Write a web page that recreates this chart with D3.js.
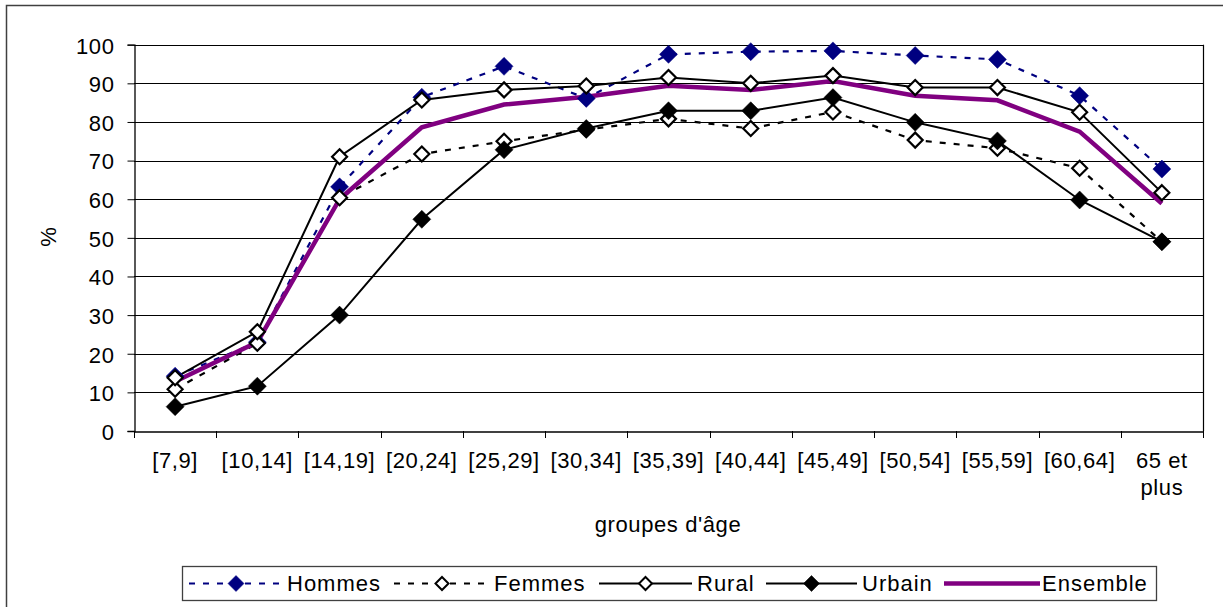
<!DOCTYPE html>
<html><head><meta charset="utf-8">
<script src="https://cdn.jsdelivr.net/npm/d3@7"></script>
<style>
html,body{margin:0;padding:0;background:#fff;}
svg{display:block;font-family:"Liberation Sans",Arial,sans-serif;}
</style></head><body>
<svg id="c" width="1223" height="607"></svg>
<script>
const categories = ["[7,9]","[10,14]","[14,19]","[20,24]","[25,29]","[30,34]","[35,39]","[40,44]","[45,49]","[50,54]","[55,59]","[60,64]","65 et plus"];
const hommes   = [14.2, 23.0, 63.2, 86.4, 94.4, 86.1, 97.5, 98.2, 98.4, 97.2, 96.2, 86.8, 67.8];
const femmes   = [10.8, 22.7, 60.4, 71.7, 75.0, 78.0, 80.8, 78.3, 82.6, 75.3, 73.2, 68.0, 49.0];
const rural    = [13.8, 25.7, 71.0, 85.7, 88.3, 89.3, 91.5, 90.0, 92.0, 88.9, 88.9, 82.5, 61.7];
const urbain   = [6.3, 11.6, 30.0, 54.8, 72.8, 78.3, 82.9, 82.9, 86.3, 79.9, 75.1, 59.8, 49.0];
const ensemble = [12.8, 23.0, 60.0, 78.6, 84.5, 86.5, 89.4, 88.3, 90.6, 86.8, 85.6, 77.5, 58.9];
const yTicks = [0,10,20,30,40,50,60,70,80,90,100];
const seriesNames = ["Hommes","Femmes","Rural","Urbain","Ensemble"];

const styles = {
  Hommes:   {color:"#000080", width:2.2, dash:"6,8", marker:"filled", mcolor:"#000080"},
  Femmes:   {color:"#000000", width:2.2, dash:"6,8", marker:"open"},
  Rural:    {color:"#000000", width:2, dash:null, marker:"open"},
  Urbain:   {color:"#000000", width:2, dash:null, marker:"filled", mcolor:"#000000"},
  Ensemble: {color:"#800080", width:4.5, dash:null, marker:null}
};
const data = {Hommes:hommes, Femmes:femmes, Rural:rural, Urbain:urbain, Ensemble:ensemble};

const FS = 22, LS = "0.6px";
const svg = d3.select("#c");
const L=134, R=1203, T=44.7, B=431;
const x = d3.scaleBand().domain(categories).range([L,R]).padding(0);
const y = d3.scaleLinear().domain([0,100]).range([B,T]);
const cx = c => x(c)+x.bandwidth()/2;

// outer border
svg.append("rect").attr("x",6.5).attr("y",5.5).attr("width",1240).attr("height",640)
  .attr("fill","none").attr("stroke","#404040").attr("stroke-width",1.5);

// gridlines
svg.append("g").selectAll("line").data(yTicks.filter(d=>d>0)).join("line")
  .attr("x1",L).attr("x2",R).attr("y1",d=>Math.round(y(d))+0.5).attr("y2",d=>Math.round(y(d))+0.5)
  .attr("stroke","#000").attr("stroke-width",1);
// right border of plot
svg.append("line").attr("x1",R+0.5).attr("x2",R+0.5).attr("y1",T).attr("y2",B)
  .attr("stroke","#000").attr("stroke-width",1.2);

// y axis
const yAxis = d3.axisLeft(y).tickValues(yTicks).tickSize(7).tickPadding(13).tickFormat(d3.format("d"));
const gy = svg.append("g").attr("transform",`translate(${L+0.5},0)`).call(yAxis);
gy.select(".domain").attr("stroke","#000").attr("stroke-width",1.3);
gy.selectAll(".tick line").attr("stroke","#000");
gy.selectAll(".tick text").attr("font-size",FS).attr("fill","#000")
  .attr("font-family","'Liberation Sans',Arial,sans-serif").style("letter-spacing",LS).attr("dy","0.38em");

// x axis
const xAxis = d3.axisBottom(x).tickSize(0).tickFormat("");
const gx = svg.append("g").attr("transform",`translate(0,${Math.round(B)+0.5})`).call(xAxis);
gx.select(".domain").attr("stroke","#000").attr("stroke-width",1.3);
// tick marks at band boundaries
const bounds = categories.map(c=>x(c)).concat([R]);
svg.append("g").selectAll("line").data(bounds).join("line")
  .attr("x1",d=>Math.round(d)+0.5).attr("x2",d=>Math.round(d)+0.5)
  .attr("y1",B).attr("y2",B+7).attr("stroke","#000").attr("stroke-width",1);
// x labels
const xl = svg.append("g").selectAll("text").data(categories).join("text")
  .attr("x",d=>cx(d)).attr("y",468).attr("text-anchor","middle")
  .attr("font-size",FS).attr("fill","#000").style("letter-spacing",LS);
xl.each(function(d){
  const t=d3.select(this);
  if(d==="65 et plus"){
    t.append("tspan").attr("x",cx(d)).attr("dy",0).text("65 et");
    t.append("tspan").attr("x",cx(d)).attr("dy",27).text("plus");
  } else t.text(d);
});

// axis titles
svg.append("text").attr("x",668).attr("y",532).attr("text-anchor","middle")
  .attr("font-size",FS).style("letter-spacing",LS).attr("fill","#000").text("groupes d'âge");
svg.append("text").attr("transform","translate(56,237) rotate(-90)").attr("text-anchor","middle")
  .attr("font-size",FS).attr("fill","#000").text("%");

// lines
const line = d3.line().x((d,i)=>cx(categories[i])).y(d=>y(d));
const diamond = s => `M0,${-s}L${s},0L0,${s}L${-s},0Z`;
seriesNames.forEach(n=>{
  const st=styles[n];
  svg.append("path").datum(data[n]).attr("d",line).attr("fill","none")
    .attr("stroke",st.color).attr("stroke-width",st.width)
    .attr("stroke-dasharray",st.dash).attr("stroke-linejoin","miter");
});
seriesNames.forEach(n=>{
  const st=styles[n];
  if(!st.marker) return;
  svg.append("g").selectAll("path").data(data[n]).join("path")
    .attr("transform",(d,i)=>`translate(${cx(categories[i])},${y(d)})`)
    .attr("d", st.marker==="filled" ? diamond(9) : diamond(7.5))
    .attr("fill", st.marker==="filled" ? st.mcolor : "#fff")
    .attr("stroke", st.marker==="filled" ? st.mcolor : "#000")
    .attr("stroke-width", st.marker==="filled" ? 0.5 : 2.2);
});

// legend
const lg = svg.append("g");
lg.append("rect").attr("x",182.5).attr("y",566.5).attr("width",974).attr("height",34)
  .attr("fill","#fff").attr("stroke","#404040").attr("stroke-width",1.3);
const legendItems = [
  {n:"Hommes", x0:189, x1:283, tx:287},
  {n:"Femmes", x0:394, x1:490, tx:494},
  {n:"Rural",  x0:599, x1:692, tx:697},
  {n:"Urbain", x0:766, x1:857, tx:862},
  {n:"Ensemble", x0:944, x1:1040, tx:1042}
];
const ly = 583.5;
legendItems.forEach(it=>{
  const st=styles[it.n];
  lg.append("line").attr("x1",it.x0).attr("x2",it.x1).attr("y1",ly).attr("y2",ly)
    .attr("stroke",st.color).attr("stroke-width",st.width).attr("stroke-dasharray",st.dash);
  if(st.marker){
    const mx=(it.x0+it.x1)/2;
    lg.append("path").attr("transform",`translate(${mx},${ly})`)
      .attr("d", st.marker==="filled"?diamond(8):diamond(6.5))
      .attr("fill", st.marker==="filled"?st.mcolor:"#fff")
      .attr("stroke", st.marker==="filled"?st.mcolor:"#000")
      .attr("stroke-width", st.marker==="filled"?0.5:2);
  }
  lg.append("text").attr("x",it.tx).attr("y",ly+7.5).attr("font-size",FS)
    .style("letter-spacing","1px").attr("fill","#000").text(it.n);
});
</script>
</body></html>
